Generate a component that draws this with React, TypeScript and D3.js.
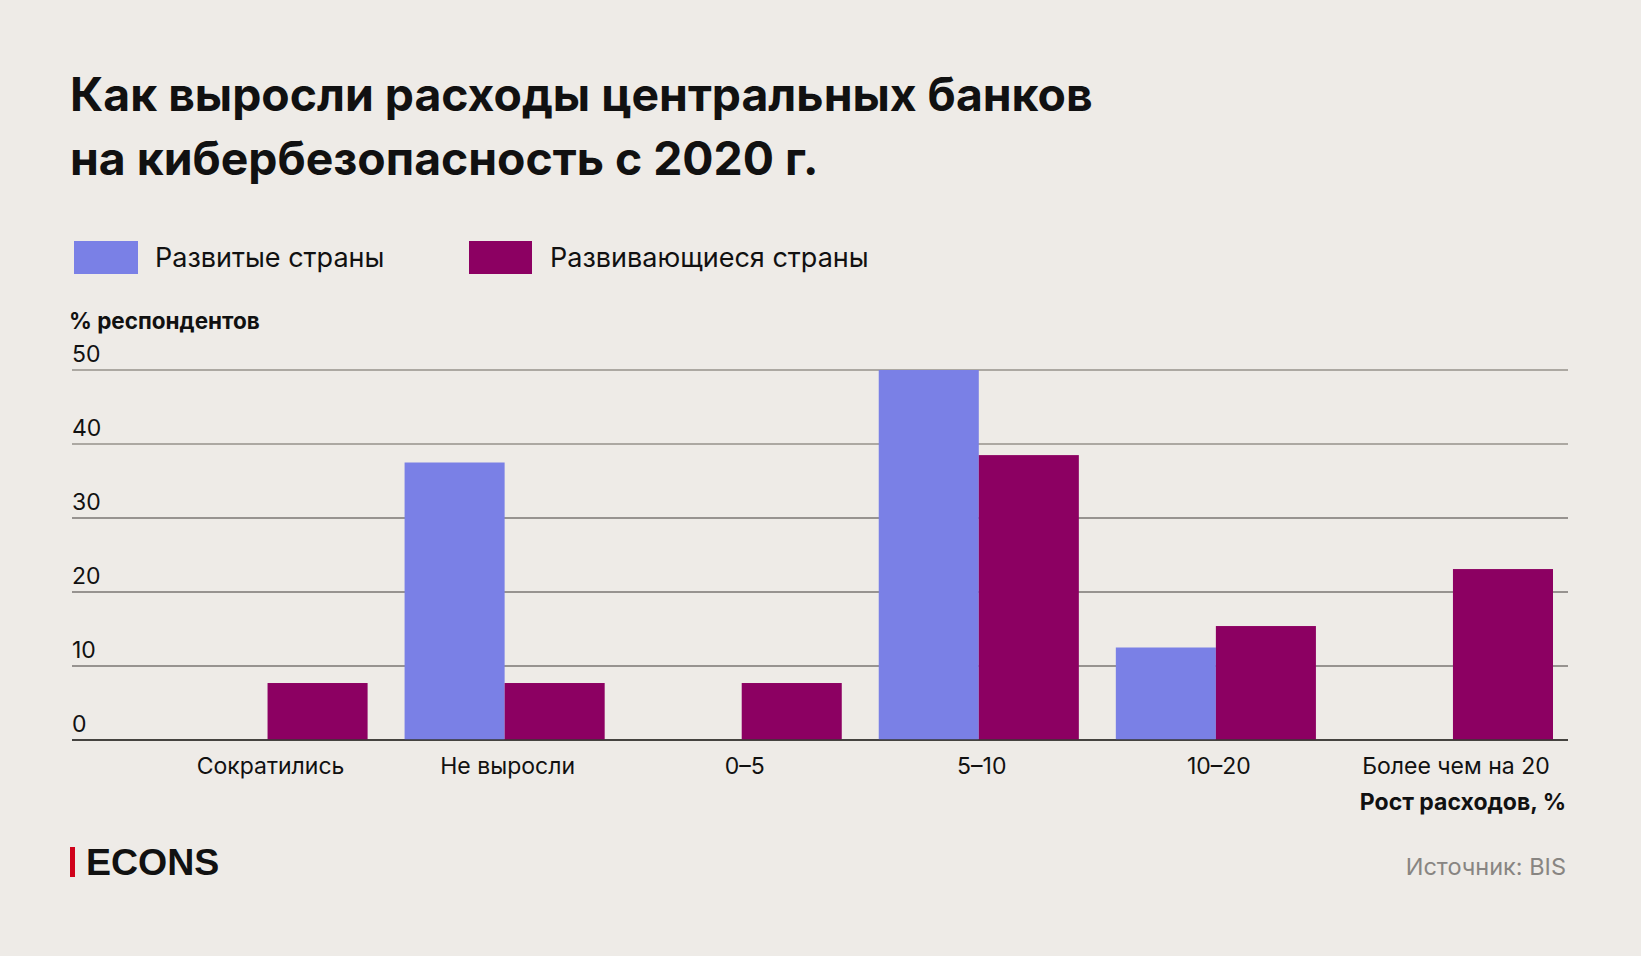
import React, { useEffect } from "react";
import * as d3 from "d3";

const categories = ["Сократились", "Не выросли", "0–5", "5–10", "10–20", "Более чем на 20"];
const developed = [0, 37.5, 0, 50, 12.5, 0];
const developing = [7.7, 7.7, 7.7, 38.5, 15.4, 23.1];
const seriesNames = ["Развитые страны", "Развивающиеся страны"];
const yTicks = [0, 10, 20, 30, 40, 50];

const W = 1641;
const H = 956;
const BG = "#eeebe7";
const BLUE = "#7a80e6";
const PURPLE = "#8c0062";
const FONT = "Inter, 'Noto Sans', sans-serif";

export default function App() {
  useEffect(() => {
    document.body.style.margin = "0";
    document.body.style.background = BG;
  }, []);
  const x = d3.scaleBand<string>().domain(categories).range([167.5, 1553]).paddingInner(0.156).paddingOuter(0);
  const y = d3.scaleLinear().domain([0, 50]).range([740, 370]);
  const gridX0 = 72;
  const gridX1 = 1568;
  const half = x.bandwidth() / 2;

  return (
    <svg width={W} height={H} style={{ display: "block", background: BG }}>
      <rect x={0} y={0} width={W} height={H} fill={BG} />
      <text x={70} y={111} fontFamily={FONT} fontWeight={700} fontSize={46.3} fill="#111">
        Как выросли расходы центральных банков
      </text>
      <text x={70} y={175} fontFamily={FONT} fontWeight={700} fontSize={46.3} fill="#111">
        на кибербезопасность с 2020 г.
      </text>

      {/* legend */}
      <rect x={74} y={241} width={64} height={33} fill={BLUE} />
      <text x={155} y={267} fontFamily={FONT} fontSize={27} fill="#111">{seriesNames[0]}</text>
      <rect x={469} y={241} width={63} height={33} fill={PURPLE} />
      <text x={550} y={267} fontFamily={FONT} fontSize={27} fill="#111">{seriesNames[1]}</text>

      <text x={69} y={329} fontFamily={FONT} fontWeight={700} fontSize={22.5} fill="#111">% респондентов</text>

      {/* gridlines */}
      {yTicks.map((t) => (
        <g key={t}>
          <line
            x1={gridX0}
            x2={gridX1}
            y1={y(t)}
            y2={y(t)}
            stroke={t === 0 ? "#3a3836" : t >= 40 ? "#aca8a2" : "#7a7673"}
            strokeWidth={t >= 40 ? 2 : 1.5}
          />
          <text x={72} y={y(t) - 8.5} fontFamily={FONT} fontSize={23} fill="#111">{t}</text>
        </g>
      ))}

      {/* bars */}
      {categories.map((c, i) => {
        const x0 = x(c)!;
        return (
          <g key={c}>
            {developed[i] > 0 && (
              <rect x={x0} y={y(developed[i])} width={half} height={y(0) - y(developed[i])} fill={BLUE} />
            )}
            {developing[i] > 0 && (
              <rect x={x0 + half} y={y(developing[i])} width={half} height={y(0) - y(developing[i])} fill={PURPLE} />
            )}
          </g>
        );
      })}
      <line x1={gridX0} x2={gridX1} y1={y(0)} y2={y(0)} stroke="#3a3836" strokeWidth={1.5} />

      {/* x labels */}
      {categories.map((c) => (
        <text key={c} x={x(c)! + x.bandwidth() / 2 + 3} y={774} textAnchor="middle" fontFamily={FONT} fontSize={23} fill="#111">
          {c}
        </text>
      ))}
      <text x={1566} y={810} textAnchor="end" fontFamily={FONT} fontWeight={700} fontSize={23} fill="#111">
        Рост расходов, %
      </text>

      {/* footer */}
      <rect x={70} y={847} width={5} height={30} fill="#d0021b" />
      <text x={86} y={875} fontFamily="'Liberation Sans', Arial, sans-serif" fontWeight={700} fontSize={37.5} fill="#111">ECONS</text>
      <text x={1566} y={875} textAnchor="end" fontFamily={FONT} fontSize={23.5} fill="#888582">Источник: BIS</text>
    </svg>
  );
}
